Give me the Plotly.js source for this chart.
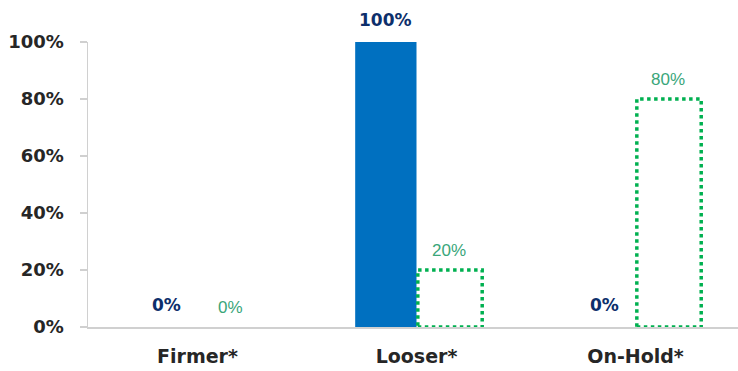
<!DOCTYPE html>
<html>
<head>
<meta charset="utf-8">
<script src="https://cdn.plot.ly/plotly-3.0.1.min.js"></script>
<style>html,body{margin:0;padding:0;background:#fff;}#chart{width:738px;height:371px;}</style>
</head>
<body>
<div id="chart"></div>
<script>
// Data
var categories = ['Firmer*', 'Looser*', 'On-Hold*'];
var seriesBlue = [0, 100, 0];
var seriesGreen = [0, 20, 80];
var yTickVals = [0, 20, 40, 60, 80, 100];
var yTickText = ['0%', '20%', '40%', '60%', '80%', '100%'];

var BLUE_W = 0.28, GREEN_W = 0.30;
var BLUE = '#0070C0', GREEN = '#00B050', NAVY = '#0D2F6B', GREEN_TXT = '#3AA67A', TXT = '#262626';

var traces = [
  {type: 'bar', x: categories, y: seriesBlue, width: BLUE_W, offset: -BLUE_W,
   marker: {color: BLUE, line: {width: 0}}, hoverinfo: 'x+y', name: 'A'},
  {type: 'bar', x: categories, y: seriesGreen, width: GREEN_W, offset: 0,
   marker: {color: 'rgba(0,0,0,0)', line: {width: 0}}, hoverinfo: 'x+y', name: 'B'}
];

var shapes = [];
var annotations = [];
categories.forEach(function(c, i) {
  if (seriesGreen[i] > 0) {
    shapes.push({type: 'rect', xref: 'x', yref: 'y', x0: i + 0.006, x1: i + GREEN_W, y0: 0, y1: seriesGreen[i],
      line: {color: GREEN, width: 3.5, dash: 'dot'}, fillcolor: 'rgba(0,0,0,0)'});
  }
  annotations.push({xref: 'x', yref: 'y', x: i - BLUE_W / 2, y: seriesBlue[i], text: seriesBlue[i] + '%',
    showarrow: false, yanchor: 'middle', yshift: 22,
    font: {family: 'DejaVu Sans', size: 17, color: NAVY, weight: 'bold'}});
  annotations.push({xref: 'x', yref: 'y', x: i + GREEN_W / 2, y: seriesGreen[i], text: seriesGreen[i] + '%',
    showarrow: false, yanchor: 'middle', yshift: 20,
    font: {family: 'Liberation Sans', size: 17, color: GREEN_TXT}});
});

var layout = {
  width: 738, height: 371,
  margin: {l: 88, r: 0, t: 42, b: 44, pad: 0},
  paper_bgcolor: '#fff', plot_bgcolor: '#fff',
  showlegend: false,
  barmode: 'overlay',
  xaxis: {
    type: 'category', range: [-0.5, 2.468], showgrid: false, zeroline: false,
    showline: true, linecolor: '#D0D0D0', linewidth: 1.5, ticks: '',
    ticklabelstandoff: 12,
    tickfont: {family: 'DejaVu Sans', size: 19, color: TXT, weight: 'bold'}
  },
  yaxis: {
    range: [0, 100], tickvals: yTickVals, ticktext: yTickText, showgrid: false, zeroline: false,
    showline: true, linecolor: '#D0D0D0', linewidth: 1.5, ticks: 'outside', ticklen: 7,
    tickcolor: '#D0D0D0', tickwidth: 1.5, ticklabelstandoff: 12,
    tickfont: {family: 'DejaVu Sans', size: 18, color: TXT, weight: 'bold'}
  },
  shapes: shapes,
  annotations: annotations
};

Plotly.newPlot('chart', traces, layout, {displayModeBar: false, staticPlot: true});
</script>
</body>
</html>
